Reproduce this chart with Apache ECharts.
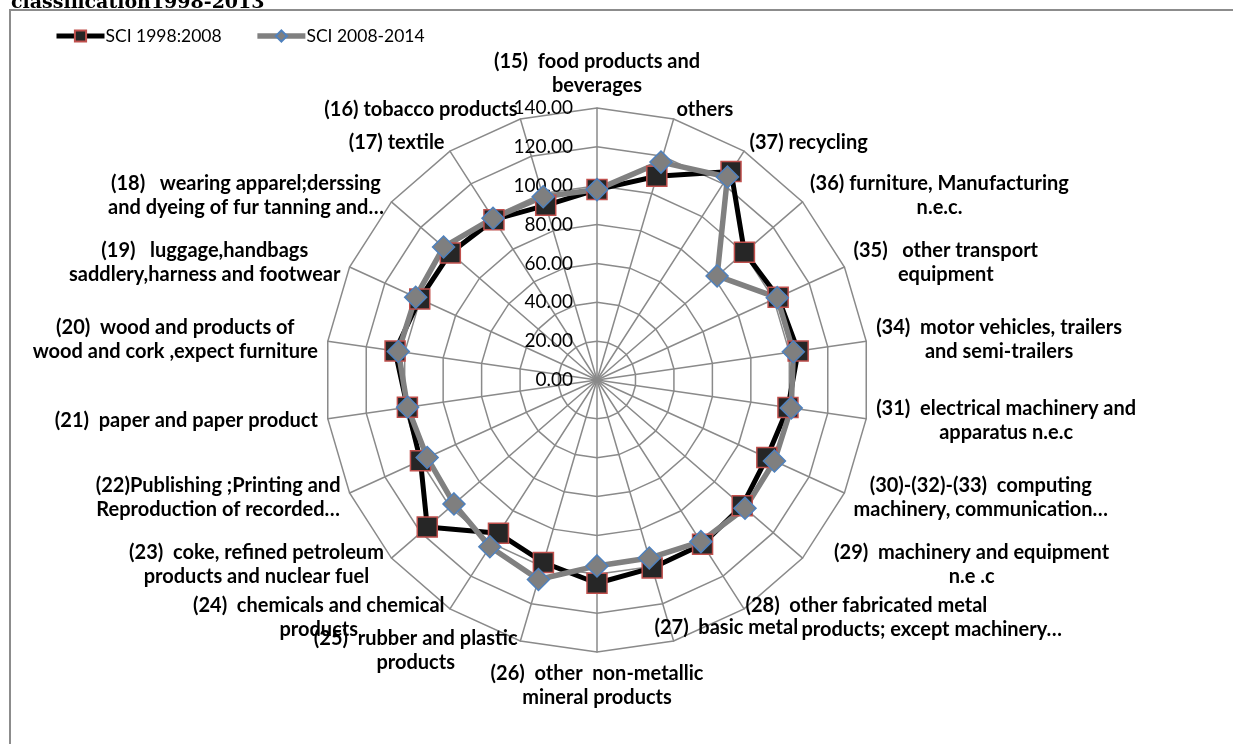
<!DOCTYPE html>
<html>
<head>
<meta charset="utf-8">
<script src="https://cdn.jsdelivr.net/npm/echarts@6/dist/echarts.min.js"></script>
<style>
  html, body { margin: 0; padding: 0; background: #fff; overflow: hidden; }
  #chart { position: absolute; left: 0; top: 0; width: 1233px; height: 744px; }
  #frame { position: absolute; left: 9px; top: 9px; width: 1400px; height: 900px;
           border-left: 2px solid #8c8c8c; border-top: 2px solid #8c8c8c; pointer-events: none; }
</style>
</head>
<body>
<div id="chart"></div>
<div id="frame"></div>
<script>
// Categories in clockwise order starting from the top
const categories = [
  "(15)  food products and\nbeverages",
  "others",
  "(37) recycling",
  "(36) furniture, Manufacturing\nn.e.c.",
  "(35)   other transport\nequipment",
  "(34)  motor vehicles, trailers\nand semi-trailers",
  "(31)  electrical machinery and\napparatus n.e.c",
  "(30)-(32)-(33)  computing\nmachinery, communication…",
  "(29)  machinery and equipment\nn.e .c",
  "(28)  other fabricated metal\nproducts; except machinery…",
  "(27)  basic metal",
  "(26)  other  non-metallic\nmineral products",
  "(25)  rubber and plastic\nproducts",
  "(24)  chemicals and chemical\nproducts",
  "(23)  coke, refined petroleum\nproducts and nuclear fuel",
  "(22)Publishing ;Printing and\nReproduction of recorded…",
  "(21)  paper and paper product",
  "(20)  wood and products of\nwood and cork ,expect furniture",
  "(19)   luggage,handbags\nsaddlery,harness and footwear",
  "(18)   wearing apparel;derssing\nand dyeing of fur tanning and…",
  "(17) textile",
  "(16) tobacco products"
];
const seriesNames = ["SCI 1998:2008", "SCI 2008-2014"];
const sci1998_2008 = [98, 109.3, 127.6, 100.4, 102.5, 104.6, 99.3, 96.1, 98.9, 100.5, 100.8, 104.6,
                      97.9, 93.8, 115.6, 99.9, 98.6, 105, 100.3, 99.9, 98.1, 93.7];
const sci2008_2014 = [98, 116.9, 124.2, 81.8, 102, 102.1, 101, 100.4, 100.8, 98.9, 95.5, 95.7,
                      107, 102, 97.4, 96.1, 98.5, 103.3, 102.6, 104.5, 99, 98.3];
const axisMax = 140;
const axisStep = 20;

// ECharts lays radar indicators counter-clockwise; reorder so the picture runs clockwise
function ccw(arr) { return [arr[0]].concat(arr.slice(1).reverse()); }

const chart = echarts.init(document.getElementById('chart'), null, { renderer: 'canvas' });
const FONT = 'Lato, "Open Sans", sans-serif';
const gridGray = '#8a8a8a';

const styles = [
  { symbol: 'rect', symbolSize: 20,
    lineStyle: { color: '#000', width: 5 },
    itemStyle: { color: '#262626', borderColor: '#C0504D', borderWidth: 1.5 } },
  { symbol: 'diamond', symbolSize: 22,
    lineStyle: { color: '#808080', width: 5.5 },
    itemStyle: { color: '#7F7F7F', borderColor: '#4F81BD', borderWidth: 1.5 } }
];

// per-line rich styles for labels that the original nudges aside (by name prefix)
const nudge = { "(29)": ['r', 'r'], "(28)": ['l', 'l2'], "(27)": ['u'] };

const indicators = ccw(categories).map((name, i) => {
  const ind = { name: name, min: 0, max: axisMax };
  if (i === 0) {
    ind.axisLabel = {
      show: true, color: '#000', fontSize: 19, fontFamily: FONT, margin: 24,
      formatter: v => Number(v).toFixed(2)
    };
  }
  return ind;
});

const nameStyle = { align: 'center', color: '#000', fontFamily: FONT, fontWeight: 'bold', fontSize: 20, lineHeight: 24 };

chart.setOption({
  backgroundColor: '#fff',
  animation: false,
  title: {
    text: 'classification1998-2013',
    left: 6, top: -11,
    textStyle: { fontFamily: '"DejaVu Serif", serif', fontWeight: 'bold', fontSize: 19, color: '#000' }
  },
  legend: {
    data: [
      { name: seriesNames[0], lineStyle: { width: 5 } },
      { name: seriesNames[1], lineStyle: { width: 5.5 } }
    ],
    left: 49, top: 22,
    itemWidth: 48, itemHeight: 14, itemGap: 33,
    textStyle: { fontFamily: FONT, fontSize: 17.5, color: '#000', padding: [0, 0, 0, -4] }
  },
  // hidden cartesian grid only hosts the legend-style line series
  grid: { show: false, left: -50, top: -50, width: 10, height: 10 },
  xAxis: { type: 'value', show: false },
  yAxis: { type: 'value', show: false },
  radar: {
    center: [597, 380],
    radius: 272,
    startAngle: 90,
    shape: 'polygon',
    splitNumber: 7,
    indicator: indicators,
    axisName: {
      color: '#000',
      fontFamily: FONT,
      fontWeight: 'bold',
      fontSize: 20,
      formatter: name => {
        const keys = nudge[name.slice(0, 4)];
        return name.split('\n').map((s, k) => '{' + (keys ? keys[k] : 'c') + '|' + s + '}').join('\n');
      },
      rich: {
        c: nameStyle,
        r: Object.assign({}, nameStyle, { padding: [0, 0, 0, 24] }),
        l: Object.assign({}, nameStyle, { align: 'left', padding: [0, 0, 0, -4] }),
        l2: Object.assign({}, nameStyle, { align: 'left', padding: [0, 0, 0, 52] }),
        u: Object.assign({}, nameStyle, { padding: [-46, 0, 0, -22] })
      }
    },
    nameGap: 10,
    axisLine: { lineStyle: { color: gridGray, width: 1.5 } },
    splitLine: { lineStyle: { color: gridGray, width: 1.5 } },
    splitArea: { show: false },
    axisTick: { show: false },
    axisLabel: { show: false }
  },
  series: [
    {
      type: 'radar',
      z: 2,
      data: [
        Object.assign({ name: seriesNames[0], value: ccw(sci1998_2008) }, styles[0]),
        Object.assign({ name: seriesNames[1], value: ccw(sci2008_2014) }, styles[1])
      ]
    },
    Object.assign({ type: 'line', name: seriesNames[0], data: [] }, styles[0], { symbolSize: 14 }),
    Object.assign({ type: 'line', name: seriesNames[1], data: [] }, styles[1], { symbolSize: 15 })
  ]
});
</script>
</body>
</html>
